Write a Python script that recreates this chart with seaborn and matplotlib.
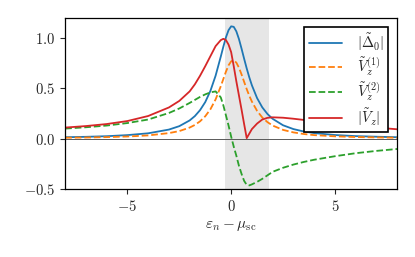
import numpy as np
import pandas as pd
import matplotlib
matplotlib.use('Agg')
import matplotlib.pyplot as plt
import seaborn as sns

# energies eps_n - mu_sc
eps = [-8, -7, -6, -5, -4, -3, -2.5, -2, -1.75, -1.5, -1.25, -1, -0.75, -0.5,
       -0.375, -0.25, -0.125, 0, 0.125, 0.25, 0.375, 0.5, 0.625, 0.75, 0.875,
       1, 1.25, 1.5, 1.75, 2, 2.5, 3, 3.5, 4, 5, 6, 7, 8]

delta0 = [0.014, 0.018, 0.024, 0.035, 0.053, 0.090, 0.124, 0.181, 0.224, 0.283,
          0.363, 0.475, 0.626, 0.816, 0.916, 1.008, 1.079, 1.117, 1.112, 1.067,
          0.991, 0.896, 0.795, 0.698, 0.609, 0.530, 0.403, 0.311, 0.245, 0.197,
          0.133, 0.095, 0.071, 0.055, 0.036, 0.025, 0.019, 0.014]

vz1 = [0.009, 0.011, 0.015, 0.021, 0.032, 0.055, 0.075, 0.110, 0.136, 0.172,
       0.222, 0.292, 0.390, 0.521, 0.594, 0.667, 0.729, 0.769, 0.779, 0.756,
       0.706, 0.639, 0.565, 0.492, 0.426, 0.368, 0.276, 0.210, 0.164, 0.130,
       0.087, 0.062, 0.046, 0.035, 0.023, 0.016, 0.012, 0.009]

vz2 = [0.100, 0.113, 0.130, 0.155, 0.190, 0.255, 0.300, 0.355, 0.385, 0.415,
       0.440, 0.460, 0.470, 0.410, 0.330, 0.230, 0.130, 0.020, -0.080, -0.170,
       -0.270, -0.350, -0.420, -0.460, -0.465, -0.455, -0.430, -0.400, -0.365,
       -0.330, -0.290, -0.258, -0.232, -0.210, -0.175, -0.145, -0.122, -0.103]

vz_abs = [0.110, 0.125, 0.145, 0.175, 0.225, 0.310, 0.375, 0.470, 0.540, 0.625,
          0.720, 0.820, 0.920, 0.980, 0.993, 0.980, 0.935, 0.860, 0.720, 0.570,
          0.430, 0.290, 0.145, 0.005, 0.050, 0.095, 0.150, 0.190, 0.207, 0.212,
          0.208, 0.198, 0.186, 0.175, 0.152, 0.130, 0.110, 0.093]

window = (-0.3, 1.8)

sns.set_style('ticks')
plt.rcParams['font.family'] = 'serif'
plt.rcParams['font.serif'] = ['cmr10']
plt.rcParams['mathtext.fontset'] = 'cm'
plt.rcParams['axes.formatter.use_mathtext'] = True
plt.rcParams['axes.unicode_minus'] = True

fig = plt.figure(figsize=(4.15, 2.57), dpi=100)
ax = fig.add_axes([0.157, 0.265, 0.8, 0.665])

ax.axvspan(window[0], window[1], color='0.9', lw=0, zorder=0)
ax.axhline(0, color='0.35', lw=0.7, zorder=1)

sns.lineplot(x=eps, y=delta0, ax=ax, color='#1f77b4', lw=1.3, sort=False,
             label=r'$|\tilde{\Delta}_0|$')
sns.lineplot(x=eps, y=vz1, ax=ax, color='#ff7f0e', lw=1.3, ls='--', sort=False,
             label=r'$\tilde{V}_z^{(1)}$')
sns.lineplot(x=eps, y=vz2, ax=ax, color='#2ca02c', lw=1.3, ls='--', sort=False,
             label=r'$\tilde{V}_z^{(2)}$')
sns.lineplot(x=eps, y=vz_abs, ax=ax, color='#d62728', lw=1.3, sort=False,
             label=r'$|\tilde{V}_z|$')

ax.set_xlim(-8, 8)
ax.set_ylim(-0.5, 1.2)
ax.set_xticks([-5, 0, 5])
ax.set_yticks([-0.5, 0.0, 0.5, 1.0])
ax.set_xlabel(r'$\varepsilon_n - \mu_{\rm sc}$', fontsize=11)
ax.set_ylabel('')
ax.tick_params(labelsize=10.5, direction='out', length=3.5, width=0.8)
for s in ax.spines.values():
    s.set_linewidth(0.9)
    s.set_color('k')

leg = ax.legend(loc='upper right', fancybox=False, edgecolor='k', framealpha=1,
                fontsize=10.5, borderpad=0.3, labelspacing=0.2,
                handlelength=2.3, handletextpad=1.0, borderaxespad=0.6)
leg.get_frame().set_linewidth(1.2)

fig.savefig('out.png', dpi=100)
